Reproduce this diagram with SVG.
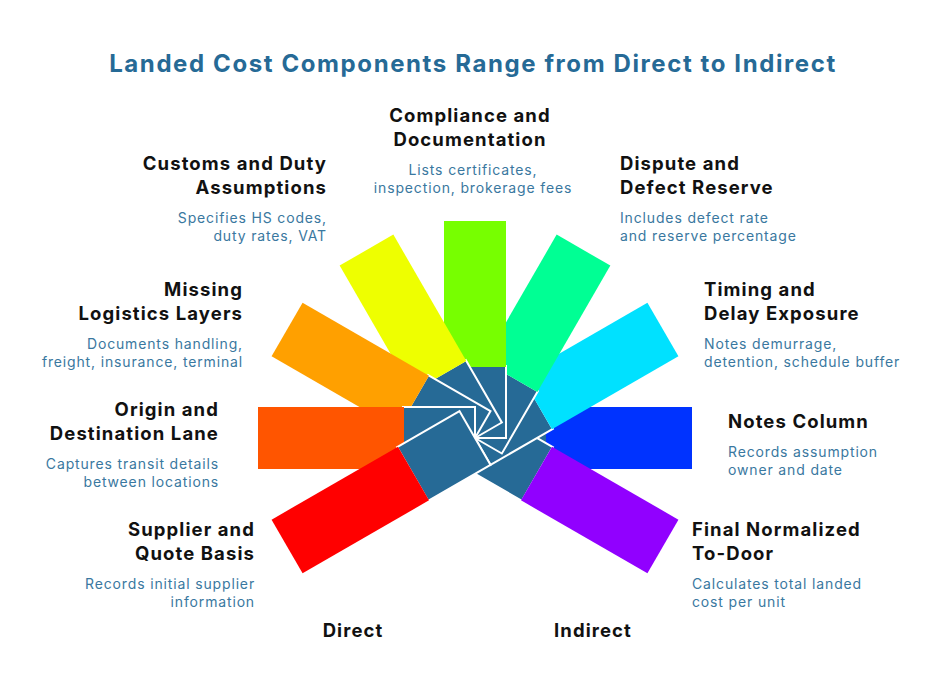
<svg xmlns="http://www.w3.org/2000/svg" width="936" height="690" viewBox="0 0 936 690">
<style>
.t{font-family:Inter,"Open Sans",sans-serif;font-weight:700;font-size:18.5px;letter-spacing:1.1px;fill:#111}
.d{font-family:Inter,"Open Sans",sans-serif;font-size:14px;letter-spacing:0.85px;fill:#3A78A0}
.e{text-anchor:end}.m{text-anchor:middle}
.hub{fill:#266A96;stroke:#fff;stroke-width:2}
</style>
<rect width="936" height="690" fill="#fff"/>
<text x="473" y="72" class="t m" style="font-size:24px;letter-spacing:1.6px;fill:#266A96">Landed Cost Components Range from Direct to Indirect</text>
<g id="arms" transform="translate(475,438)">
<g id="arm-blue"><rect class="hub" x="0" y="-31" width="72" height="62"/><rect x="71" y="-31" width="146" height="62" fill="#0033FF"/></g>
<g id="arm-purple" transform="rotate(30)"><rect class="hub" x="0" y="-31" width="72" height="62"/><rect x="71" y="-31" width="146" height="62" fill="#9100FF"/></g>
<g id="arm-cyan" transform="rotate(-30)"><rect class="hub" x="0" y="-31" width="72" height="62"/><rect x="71" y="-31" width="146" height="62" fill="#00E1FF"/></g>
<g id="arm-mint" transform="rotate(-60)"><rect class="hub" x="0" y="-31" width="72" height="62"/><rect x="71" y="-31" width="146" height="62" fill="#00FF94"/></g>
<g id="arm-green" transform="rotate(-90)"><rect class="hub" x="0" y="-31" width="72" height="62"/><rect x="71" y="-31" width="146" height="62" fill="#77FF00"/></g>
<g id="arm-yellow" transform="rotate(-120)"><rect class="hub" x="0" y="-31" width="72" height="62"/><rect x="71" y="-31" width="146" height="62" fill="#EEFF00"/></g>
<g id="arm-orange" transform="rotate(-150)"><rect class="hub" x="0" y="-31" width="72" height="62"/><rect x="71" y="-31" width="146" height="62" fill="#FFA000"/></g>
<g id="arm-orangered" transform="rotate(180)"><rect class="hub" x="0" y="-31" width="72" height="62"/><rect x="71" y="-31" width="146" height="62" fill="#FF5500"/></g>
<g id="arm-red" transform="rotate(150)"><rect class="hub" x="0" y="-31" width="72" height="62"/><rect x="71" y="-31" width="146" height="62" fill="#FF0000"/></g>
</g>
<g id="compliance"><text x="470" y="122" class="t m">Compliance and</text><text x="470" y="146" class="t m">Documentation</text><text x="473" y="175" class="d m">Lists certificates,</text><text x="473" y="193" class="d m">inspection, brokerage fees</text></g>
<g id="customs"><text x="327" y="170" class="t e">Customs and Duty</text><text x="327" y="194" class="t e">Assumptions</text><text x="327" y="223" class="d e">Specifies HS codes,</text><text x="327" y="241" class="d e">duty rates, VAT</text></g>
<g id="missing"><text x="243" y="296" class="t e">Missing</text><text x="243" y="320" class="t e">Logistics Layers</text><text x="243" y="349" class="d e">Documents handling,</text><text x="243" y="367" class="d e">freight, insurance, terminal</text></g>
<g id="origin"><text x="219" y="416" class="t e">Origin and</text><text x="219" y="440" class="t e">Destination Lane</text><text x="219" y="469" class="d e">Captures transit details</text><text x="219" y="487" class="d e">between locations</text></g>
<g id="supplier"><text x="255" y="536" class="t e">Supplier and</text><text x="255" y="560" class="t e">Quote Basis</text><text x="255" y="589" class="d e">Records initial supplier</text><text x="255" y="607" class="d e">information</text></g>
<g id="dispute"><text x="620" y="170" class="t">Dispute and</text><text x="620" y="194" class="t">Defect Reserve</text><text x="620" y="223" class="d">Includes defect rate</text><text x="620" y="241" class="d">and reserve percentage</text></g>
<g id="timing"><text x="704" y="296" class="t">Timing and</text><text x="704" y="320" class="t">Delay Exposure</text><text x="704" y="349" class="d">Notes demurrage,</text><text x="704" y="367" class="d">detention, schedule buffer</text></g>
<g id="notes"><text x="728" y="428" class="t">Notes Column</text><text x="728" y="457" class="d">Records assumption</text><text x="728" y="475" class="d">owner and date</text></g>
<g id="final"><text x="692" y="536" class="t">Final Normalized</text><text x="692" y="560" class="t">To-Door</text><text x="692" y="589" class="d">Calculates total landed</text><text x="692" y="607" class="d">cost per unit</text></g>
<text x="353" y="637" class="t m">Direct</text>
<text x="593" y="637" class="t m">Indirect</text>
</svg>
